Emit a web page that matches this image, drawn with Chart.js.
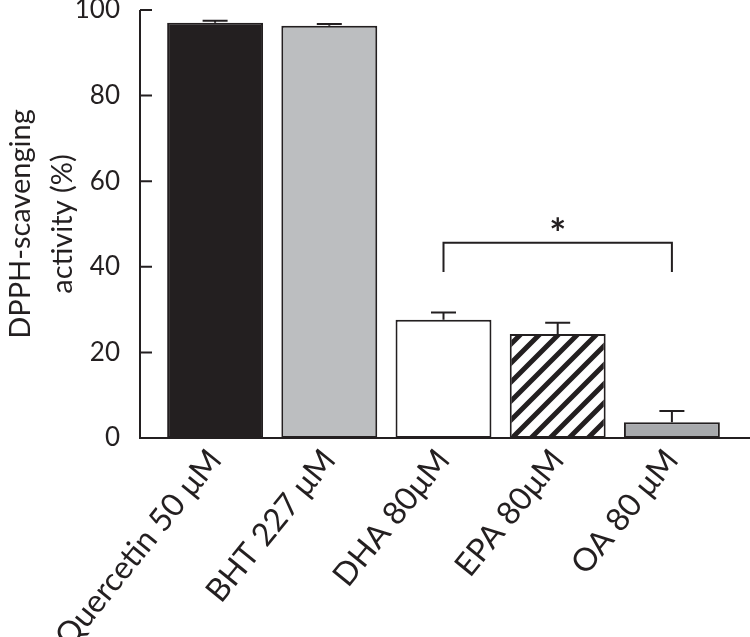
<!DOCTYPE html>
<html>
<head>
<meta charset="utf-8">
<script src="https://cdn.jsdelivr.net/npm/chart.js@4.4.0/dist/chart.umd.min.js"></script>
<style>
  html, body { margin: 0; padding: 0; background: #fff; }
  #wrap { width: 750px; height: 637px; }
</style>
</head>
<body>
<div id="wrap"><canvas id="chart" width="750" height="637"></canvas></div>
<script>
// --- Data ---
const categories = ['Quercetin 50 \u03BCM', 'BHT 227 \u03BCM', 'DHA 80\u03BCM', 'EPA 80\u03BCM', 'OA 80 \u03BCM'];
const activity = [97.0, 96.3, 27.6, 24.3, 3.7];
const activityErr = [0.5, 0.4, 1.7, 2.6, 2.6];
const yTicks = [0, 20, 40, 60, 80, 100];
// significance bracket: DHA vs OA
const sigPair = [2, 4];
const sigLevel = 45.6;
const sigDrop = 38.8;

const ink = '#231f20';
const font = 'Lato, "Liberation Sans", sans-serif';

// --- Hatch pattern for EPA ---
function makeHatch() {
    const s = 19;
    const c = document.createElement('canvas');
    c.width = s; c.height = s;
    const g = c.getContext('2d');
    g.fillStyle = '#fff';
    g.fillRect(0, 0, s, s);
    g.strokeStyle = ink;
    g.lineWidth = 5;
    g.beginPath();
    g.moveTo(-2, s + 2); g.lineTo(s + 2, -2);
    g.moveTo(-4, 4); g.lineTo(4, -4);
    g.moveTo(s - 4, s + 4); g.lineTo(s + 4, s - 4);
    g.stroke();
    return g.createPattern(c, 'repeat');
}

const ctx = document.getElementById('chart').getContext('2d');
const fills = [ink, '#bcbec0', '#ffffff', makeHatch(), '#a7a9ac'];

// --- Axes, error bars and significance marks ---
const decorations = {
    id: 'decorations',
    afterDatasetsDraw(chart) {
        const c = chart.ctx;
        const x = chart.scales.x;
        const y = chart.scales.y;
        const axisX = 140;
        const zeroY = y.getPixelForValue(0);
        c.save();
        c.strokeStyle = ink;
        c.lineWidth = 2;
        c.lineCap = 'butt';

        // y axis with inward ticks
        c.beginPath();
        c.moveTo(axisX, y.getPixelForValue(100));
        c.lineTo(axisX, zeroY);
        yTicks.forEach(v => {
            const py = y.getPixelForValue(v);
            c.moveTo(axisX, py);
            c.lineTo(axisX + 12, py);
        });
        // x axis
        c.moveTo(axisX - 1, zeroY);
        c.lineTo(chart.width, zeroY);
        c.stroke();

        // error bars (upper only)
        const meta = chart.getDatasetMeta(0);
        meta.data.forEach((bar, i) => {
            const top = y.getPixelForValue(activity[i]);
            const cap = y.getPixelForValue(activity[i] + activityErr[i]);
            c.beginPath();
            c.moveTo(bar.x, top);
            c.lineTo(bar.x, cap);
            c.moveTo(bar.x - 12.5, cap);
            c.lineTo(bar.x + 12.5, cap);
            c.stroke();
        });

        // significance bracket
        const x1 = x.getPixelForValue(sigPair[0]);
        const x2 = x.getPixelForValue(sigPair[1]);
        const yb = y.getPixelForValue(sigLevel);
        const yd = y.getPixelForValue(sigDrop);
        c.beginPath();
        c.moveTo(x1, yd);
        c.lineTo(x1, yb);
        c.lineTo(x2, yb);
        c.lineTo(x2, yd);
        c.stroke();

        c.fillStyle = ink;
        c.font = 'bold 40px ' + font;
        c.textAlign = 'center';
        c.textBaseline = 'alphabetic';
        c.fillText('*', (x1 + x2) / 2, yb + 5);
        c.restore();
    }
};

new Chart(ctx, {
    type: 'bar',
    data: {
        labels: categories,
        datasets: [{
            data: activity,
            backgroundColor: fills,
            borderColor: ink,
            borderWidth: 2,
            borderSkipped: false,
            categoryPercentage: 1,
            barPercentage: 0.84
        }]
    },
    options: {
        responsive: false,
        animation: false,
        devicePixelRatio: 1,
        layout: { padding: { top: 10, right: 21, left: 0, bottom: 0 } },
        plugins: { legend: { display: false }, tooltip: { enabled: false } },
        scales: {
            x: {
                grid: { display: false, drawTicks: false },
                border: { display: false },
                ticks: {
                    color: ink,
                    font: { family: font, size: 32 },
                    minRotation: 51,
                    maxRotation: 51,
                    padding: 4,
                    autoSkip: false
                },
                afterFit(scale) { scale.height = 199; }
            },
            y: {
                min: 0,
                max: 100,
                grid: { display: false, drawTicks: false },
                border: { display: false },
                afterBuildTicks(scale) { scale.ticks = yTicks.map(v => ({ value: v })); },
                ticks: {
                    color: ink,
                    font: { family: font, size: 26 },
                    padding: 38
                },
                title: {
                    display: true,
                    text: ['DPPH-scavenging', 'activity (%)'],
                    color: ink,
                    font: { family: font, size: 29, lineHeight: 1.45 },
                    padding: { top: 0, bottom: 0 }
                },
                afterFit(scale) {
                    scale.width = 158;
                    scale.paddingTop = 0;
                    scale.paddingBottom = 0;
                }
            }
        }
    },
    plugins: [decorations]
});
</script>
</body>
</html>
